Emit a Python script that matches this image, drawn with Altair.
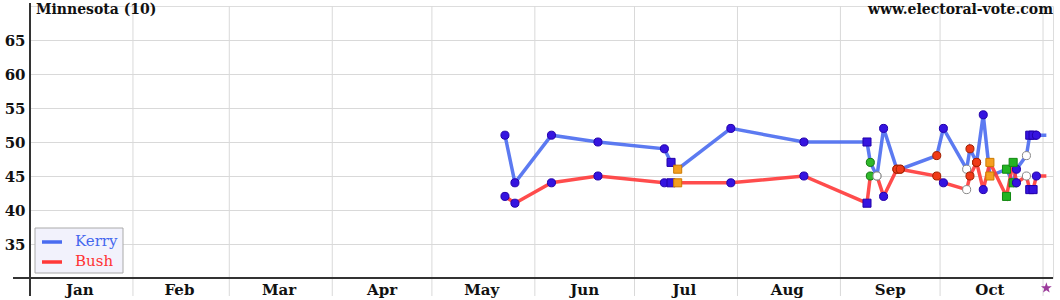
import altair as alt
import pandas as pd

# ---------------- data ----------------
poll_dates = ["2004-05-23", "2004-05-26", "2004-06-06", "2004-06-20", "2004-07-10",
              "2004-07-12", "2004-07-14", "2004-07-30", "2004-08-21", "2004-09-09",
              "2004-09-10", "2004-09-12", "2004-09-14", "2004-09-18", "2004-09-19",
              "2004-09-30", "2004-10-02", "2004-10-09", "2004-10-10", "2004-10-12",
              "2004-10-14", "2004-10-16", "2004-10-21", "2004-10-23", "2004-10-24",
              "2004-10-27", "2004-10-28", "2004-10-29", "2004-10-30"]
kerry = [51, 44, 51, 50, 49, 47, 46, 52, 50, 50, 47, 45, 52, 46, 46,
         48, 52, 46, 49, 47, 54, 45, 46, 44, 46, 48, 51, 51, 51]
bush = [42, 41, 44, 45, 44, 44, 44, 44, 45, 41, 45, 45, 42, 46, 46,
        45, 44, 43, 45, 47, 43, 47, 42, 47, 44, 45, 43, 43, 45]
pollster = ["A", "A", "A", "A", "A", "B", "C", "A", "A", "B", "D", "E", "A", "F", "F",
            "F", "A", "E", "F", "F", "A", "C", "G", "G", "A", "E", "B", "B", "A"]
election_day = "2004-11-02"
final_kerry = 51
final_bush = 45

month_starts = ["2004-02-01", "2004-03-01", "2004-04-01", "2004-05-01", "2004-06-01",
                "2004-07-01", "2004-08-01", "2004-09-01", "2004-10-01", "2004-11-01"]
month_mids = ["2004-01-16", "2004-02-15", "2004-03-16", "2004-04-16", "2004-05-16",
              "2004-06-16", "2004-07-16", "2004-08-16", "2004-09-16", "2004-10-16"]
month_names = ["Jan", "Feb", "Mar", "Apr", "May", "Jun", "Jul", "Aug", "Sep", "Oct"]
y_ticks = [35, 40, 45, 50, 55, 60, 65]

candidates = ["Kerry", "Bush"]
cand_colors = ["#4a6cf0", "#ff3838"]

marker_types = ["A", "B", "C", "D", "E", "F", "G"]
marker_shapes = ["circle", "square", "square", "circle", "circle", "circle", "square"]
marker_fills = ["#3514e0", "#3514e0", "#f5a020", "#2fb82a", "#ffffff", "#f03a18", "#22b422"]
marker_strokes = ["#2200aa", "#2200aa", "#cc7a00", "#117711", "#888888", "#a02000", "#118811"]

# ---------------- tables ----------------
pts = pd.DataFrame({
    "date": poll_dates * 2,
    "value": kerry + bush,
    "candidate": ["Kerry"] * len(kerry) + ["Bush"] * len(bush),
    "type": pollster * 2,
})
lines = pd.concat([
    pts[["date", "value", "candidate"]],
    pd.DataFrame({"date": [election_day, election_day],
                  "value": [final_kerry, final_bush],
                  "candidate": ["Kerry", "Bush"]}),
], ignore_index=True)

W, H = 1023, 272
FONT = "DejaVu Serif"

xscale = alt.Scale(domain=[alt.DateTime(year=2004, month=1, date=1, utc=True),
                           alt.DateTime(year=2004, month=11, date=4, utc=True)])
X = alt.X("date:T", scale=xscale, axis=None)
Y = alt.Y("value:Q", scale=alt.Scale(domain=[30, 70]),
          axis=alt.Axis(values=y_ticks, title=None, domain=False, ticks=False,
                        grid=True, gridColor="#d9d9d9", gridWidth=1,
                        labelFont=FONT, labelFontSize=15, labelFontWeight="bold",
                        labelColor="#111", labelPadding=5))

one = pd.DataFrame({"k": [0]})

vgrid = alt.Chart(pd.DataFrame({"date": month_starts})).mark_rule(
    color="#d9d9d9", strokeWidth=1).encode(x=X, y=alt.value(0), y2=alt.value(H + 18))

line_layer = alt.Chart(lines).mark_line(strokeWidth=3.5, opacity=0.9).encode(
    x=X, y=Y,
    color=alt.Color("candidate:N", scale=alt.Scale(domain=candidates, range=cand_colors),
                    legend=None),
    detail="candidate:N",
)

point_layer = alt.Chart(pts).mark_point(filled=True, size=65, strokeWidth=1, opacity=1).encode(
    x=X, y=Y,
    shape=alt.Shape("type:N", scale=alt.Scale(domain=marker_types, range=marker_shapes), legend=None),
    fill=alt.Fill("type:N", scale=alt.Scale(domain=marker_types, range=marker_fills), legend=None),
    stroke=alt.Stroke("type:N", scale=alt.Scale(domain=marker_types, range=marker_strokes), legend=None),
)

xaxis_line = alt.Chart(one).mark_rule(color="#333333", strokeWidth=2).encode(
    x=alt.value(-17), x2=alt.value(W), y=alt.value(H))
yaxis_line = alt.Chart(one).mark_rule(color="#333333", strokeWidth=2).encode(
    x=alt.value(0), y=alt.value(-3), y2=alt.value(H + 18))

months = alt.Chart(pd.DataFrame({"date": month_mids, "name": month_names})).mark_text(
    font=FONT, fontSize=15, fontWeight="bold", color="#111", baseline="middle", align="center"
).encode(x=X, y=alt.value(H + 12), text="name:N")

title_l = alt.Chart(one).mark_text(font=FONT, fontSize=14, fontWeight="bold", color="#111",
                                   align="left", baseline="middle").encode(
    x=alt.value(6), y=alt.value(4), text=alt.value("Minnesota (10)"))
title_r = alt.Chart(one).mark_text(font=FONT, fontSize=14, fontWeight="bold", color="#111",
                                   align="right", baseline="middle").encode(
    x=alt.value(W), y=alt.value(4), text=alt.value("www.electoral-vote.com"))

leg_box = alt.Chart(one).mark_rect(fill="#f2f2fc", stroke="#aaaaaa", strokeWidth=1).encode(
    x=alt.value(5), x2=alt.value(93), y=alt.value(222), y2=alt.value(267))
leg_k_line = alt.Chart(one).mark_rule(color=cand_colors[0], strokeWidth=3.5).encode(
    x=alt.value(12), x2=alt.value(32), y=alt.value(236))
leg_b_line = alt.Chart(one).mark_rule(color=cand_colors[1], strokeWidth=3.5).encode(
    x=alt.value(12), x2=alt.value(32), y=alt.value(256))
leg_k_text = alt.Chart(one).mark_text(font=FONT, fontSize=15, color="#4466ee",
                                      align="left", baseline="middle").encode(
    x=alt.value(45), y=alt.value(235), text=alt.value("Kerry"))
leg_b_text = alt.Chart(one).mark_text(font=FONT, fontSize=15, color="#ff3333",
                                      align="left", baseline="middle").encode(
    x=alt.value(45), y=alt.value(255), text=alt.value("Bush"))

STAR = ("M0,-1L0.235,-0.324L0.951,-0.309L0.38,0.124L0.588,0.809L0,0.382"
        "L-0.588,0.809L-0.38,0.124L-0.951,-0.309L-0.235,-0.324Z")
star = alt.Chart(pd.DataFrame({"date": [election_day]})).mark_point(
    shape=STAR, filled=True, size=130, color="#9b3a9b", opacity=1).encode(
    x=X, y=alt.value(H + 10))

chart = alt.layer(
    vgrid, line_layer, point_layer, xaxis_line, yaxis_line, months,
    title_l, title_r, leg_box, leg_k_line, leg_b_line, leg_k_text, leg_b_text, star,
).resolve_scale(color="independent").properties(
    width=W, height=H,
    autosize=alt.AutoSizeParams(type="none"),
    padding={"left": 30, "top": 6, "right": 7, "bottom": 22},
).configure_view(stroke=None).configure(background="white")

chart.save("out.html", embed_options={"renderer": "svg", "actions": False})
